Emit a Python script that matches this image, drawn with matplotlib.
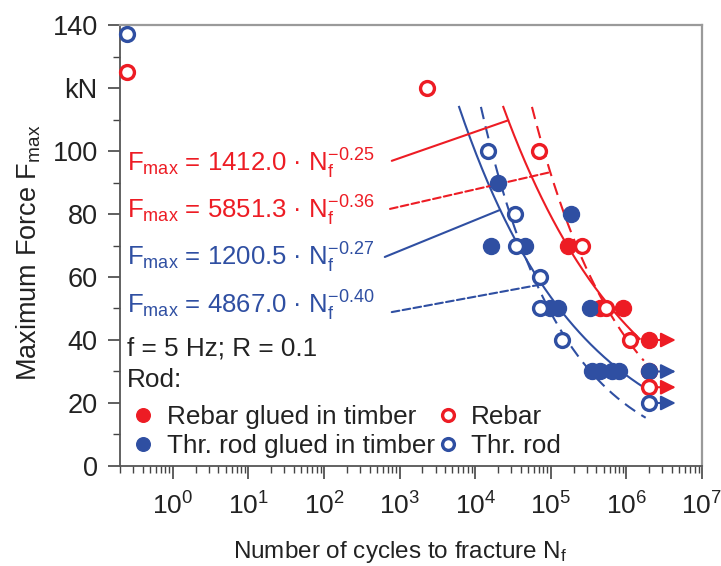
import numpy as np
import matplotlib
matplotlib.use('Agg')
import matplotlib.pyplot as plt
from matplotlib.ticker import LogLocator, NullFormatter, MultipleLocator, FixedLocator, FixedFormatter

plt.rcParams['font.family'] = ['Liberation Sans', 'DejaVu Sans']
plt.rcParams['mathtext.fontset'] = 'custom'
plt.rcParams['mathtext.rm'] = 'Liberation Sans'
plt.rcParams['mathtext.it'] = 'Liberation Sans:italic'
plt.rcParams['mathtext.bf'] = 'Liberation Sans:bold'

RED = '#ed1c24'
BLUE = '#2f4fa2'

# --- data ---
# rebar glued in timber (filled red)
rebar_glued_n = [170000, 450000, 900000, 2e6, 2e6]
rebar_glued_f = [70, 50, 50, 40, 30]
# threaded rod glued in timber (filled blue)
rod_glued_n = [20000, 185000, 16000, 46000, 97000, 124000, 330000,
               350000, 450000, 650000, 800000, 2e6]
rod_glued_f = [90, 80, 70, 70, 50, 50, 50, 30, 30, 30, 30, 30]
# rebar (open red)
rebar_n = [0.25, 2300, 70000, 256000, 540000, 1.11e6, 2e6]
rebar_f = [125, 120, 100, 70, 50, 40, 25]
# threaded rod (open blue)
rod_n = [0.25, 14700, 33500, 35000, 72000, 72000, 139000, 2e6]
rod_f = [137, 100, 80, 70, 60, 50, 40, 20]

# run-outs (N = 2e6, marked with arrows)
runout_f = [40, 30, 25, 20]
runout_col = [RED, BLUE, RED, BLUE]

# fitted curves F = a * N^b
fit_a = [1412.0, 5851.3, 1200.5, 4867.0]
fit_b = [-0.25, -0.36, -0.27, -0.40]
fit_col = [RED, RED, BLUE, BLUE]
fit_ls = ['-', '--', '-', '--']
fit_nend = [1.5e6, 1.7e6, 2e6, 1.8e6]
fit_ftop = 114
fit_label = [r'F$_{\mathrm{max}}$ = 1412.0 · N$_{\mathrm{f}}^{\mathrm{-0.25}}$',
             r'F$_{\mathrm{max}}$ = 5851.3 · N$_{\mathrm{f}}^{\mathrm{-0.36}}$',
             r'F$_{\mathrm{max}}$ = 1200.5 · N$_{\mathrm{f}}^{\mathrm{-0.27}}$',
             r'F$_{\mathrm{max}}$ = 4867.0 · N$_{\mathrm{f}}^{\mathrm{-0.40}}$']
pointer_n = [27400, 98400, 21400, 66200]

fig = plt.figure(figsize=(7.21, 5.66), dpi=100)
ax = fig.add_axes([0.1664, 0.1767, 0.8072, 0.7791])
ax.set_xscale('log')
ax.set_xlim(0.2, 1e7)
ax.set_ylim(0, 140)

# fit curves
for a, b, c, ls, ne in zip(fit_a, fit_b, fit_col, fit_ls, fit_nend):
    n0 = (fit_ftop / a) ** (1 / b)
    n = np.logspace(np.log10(n0), np.log10(ne), 200)
    line, = ax.plot(n, a * n ** b, color=c, lw=1.5, ls=ls, zorder=2)
    if ls == '--':
        line.set_dashes((6, 3.5))

# run-out arrows
for f, c in zip(runout_f, runout_col):
    ax.annotate('', xy=(4.5e6, f), xytext=(2e6, f),
                arrowprops=dict(arrowstyle='-|>,head_length=0.5,head_width=0.25',
                                color=c, lw=1.5, mutation_scale=18,
                                shrinkA=0, shrinkB=0), zorder=3)

ms_full = 11.5
ms_open = 10
ax.plot(rebar_glued_n, rebar_glued_f, 'o', color=RED, ms=ms_full, mec=RED, zorder=4,
        label='Rebar glued in timber')
ax.plot(rod_glued_n, rod_glued_f, 'o', color=BLUE, ms=ms_full, mec=BLUE, zorder=5,
        label='Thr. rod glued in timber')
ax.plot(rebar_n, rebar_f, 'o', mfc='white', mec=RED, mew=2.4, ms=ms_open, zorder=6,
        label='Rebar', clip_on=False)
ax.plot(rod_n, rod_f, 'o', mfc='white', mec=BLUE, mew=2.4, ms=ms_open, zorder=6,
        label='Thr. rod', clip_on=False)

# equation labels with leader lines
eq_y = [0.668, 0.561, 0.455, 0.346]
ptr_start = [(0.467, 0.692), (0.464, 0.583), (0.455, 0.474), (0.467, 0.349)]
for lab, y, c, a, b, ls, pn, ps in zip(fit_label, eq_y, fit_col, fit_a, fit_b,
                                       fit_ls, pointer_n, ptr_start):
    ax.text(0.012, y, lab, transform=ax.transAxes, color=c, fontsize=18.5,
            va='baseline', ha='left')
    ax.annotate('', xy=(pn, a * pn ** b), xycoords='data',
                xytext=ps, textcoords='axes fraction',
                arrowprops=dict(arrowstyle='-', color=c, lw=1.5,
                                linestyle='--' if ls == '--' else '-',
                                shrinkA=0, shrinkB=0))

ax.text(0.012, 0.251, 'f = 5 Hz; R = 0.1', transform=ax.transAxes, fontsize=18.8,
        va='baseline', color='#222222')
ax.text(0.012, 0.178, 'Rod:', transform=ax.transAxes, fontsize=18.8,
        va='baseline', color='#222222')

h, l = ax.get_legend_handles_labels()
leg = ax.legend(h, l, ncol=2, loc='lower left', bbox_to_anchor=(0.022, 0.017),
                frameon=False, fontsize=18.8, handlelength=0.8, handletextpad=0.5,
                columnspacing=0.1, labelspacing=0.22, borderpad=0, borderaxespad=0,
                markerscale=0.85)
for t in leg.get_texts():
    t.set_color('#222222')

# axes cosmetics
ax.xaxis.set_major_locator(FixedLocator([1e0, 1e1, 1e2, 1e3, 1e4, 1e5, 1e6, 1e7]))
ax.xaxis.set_major_formatter(FixedFormatter([r'$\mathdefault{10^{%d}}$' % i for i in range(8)]))
ax.xaxis.set_minor_locator(LogLocator(base=10, subs=np.arange(2, 10), numticks=50))
ax.xaxis.set_minor_formatter(NullFormatter())
yt = [0, 20, 40, 60, 80, 100, 120, 140]
ax.yaxis.set_major_locator(FixedLocator(yt))
ax.yaxis.set_major_formatter(FixedFormatter(['0', '20', '40', '60', '80', '100', 'kN', '140']))
ax.yaxis.set_minor_locator(MultipleLocator(10))
ax.tick_params(which='major', direction='out', length=9, width=1.2, labelsize=19.5,
               color='#444444', labelcolor='#222222')
ax.tick_params(axis='x', which='major', pad=10, labelsize=19)
ax.tick_params(axis='y', which='major', pad=7)
ax.tick_params(which='minor', direction='out', length=5, width=1.0, color='#444444')
for s in ['left', 'bottom']:
    ax.spines[s].set_color('#555555')
    ax.spines[s].set_linewidth(1.3)
for s in ['top', 'right']:
    ax.spines[s].set_color('#9a9a9a')
    ax.spines[s].set_linewidth(1.6)

fig.text(29 / 721, 1 - 253 / 566, r'Maximum Force F$_{\mathrm{max}}$', rotation=90,
         ha='center', va='center', fontsize=19.5, color='#222222')
fig.text(400 / 721, 1 - 558 / 566, r'Number of cycles to fracture N$_{\mathrm{f}}$',
         ha='center', va='baseline', fontsize=17.5, color='#222222')

fig.savefig('out.png', dpi=100)
